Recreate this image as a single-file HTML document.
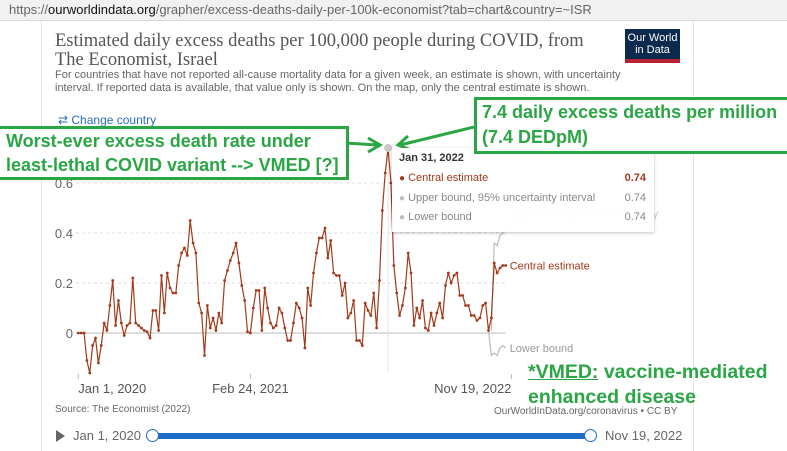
<!DOCTYPE html>
<html><head><meta charset="utf-8"><style>
body{margin:0;width:787px;height:445px;overflow:hidden;background:#fff;font-family:"Liberation Sans",sans-serif;position:relative}
.abs{position:absolute;white-space:nowrap}
.g{color:#2aa645;font-weight:bold;font-family:"Liberation Sans",sans-serif}
</style></head><body>
<div class="abs" style="left:0;top:0;width:787px;height:20px;background:#f1f1f1;border-bottom:1px solid #d8d8d8"></div>
<div class="abs" style="left:9px;top:2px;font-size:13px;color:#666">https://<span style="color:#111">ourworldindata.org</span>/grapher/excess-deaths-daily-per-100k-economist?tab=chart&amp;country=~ISR</div>
<div class="abs" style="left:41px;top:21px;width:651px;height:430px;border-left:1px solid #e4e4e4;border-right:1px solid #e4e4e4"></div>
<div class="abs" style="left:55px;top:32px;font-family:'Liberation Serif',serif;font-size:18.5px;line-height:19px;color:#555">Estimated daily excess deaths per 100,000 people during COVID, from<br>The Economist, Israel</div>
<div class="abs" style="left:625px;top:29px;width:55px;height:34px;background:#0c2a4d;border-bottom:4px solid #ba2335;color:#fff;font-size:11px;line-height:12px;text-align:center;padding-top:3px;box-sizing:border-box">Our World<br>in Data</div>
<div class="abs" style="left:55px;top:69px;font-size:11px;line-height:13px;color:#666">For countries that have not reported all-cause mortality data for a given week, an estimate is shown, with uncertainty<br>interval. If reported data is available, that value only is shown. On the map, only the central estimate is shown.</div>
<div class="abs" style="left:58px;top:113px;font-size:12px;color:#2a6ebb">⇄ Change country</div>

<svg id="chart" class="abs" style="left:0;top:0" width="787" height="445"></svg>

<div class="abs" style="left:392px;top:148px;width:262px;height:84px;background:rgba(255,255,255,0.93);box-shadow:0 1px 3px rgba(0,0,0,0.25);font-size:11px;color:#555">
<div style="position:absolute;left:7px;top:4px;font-weight:bold;color:#333">Jan 31, 2022</div>
<div style="position:absolute;left:7px;top:24px;color:#a2391a"><span style="font-size:10px">●</span> Central estimate</div><div style="position:absolute;right:8px;top:24px;color:#a2391a;font-weight:bold">0.74</div>
<div style="position:absolute;left:7px;top:44px;color:#888"><span style="font-size:10px;color:#bbb">●</span> Upper bound, 95% uncertainty interval</div><div style="position:absolute;right:8px;top:44px;color:#888">0.74</div>
<div style="position:absolute;left:7px;top:63px;color:#888"><span style="font-size:10px;color:#bbb">●</span> Lower bound</div><div style="position:absolute;right:8px;top:63px;color:#888">0.74</div>
</div>

<div class="abs g" style="left:0;top:126px;width:340px;height:48px;border:3px solid #2aa645;border-left:none;font-size:18px;line-height:24px;padding-left:6px;background:#fff">Worst-ever excess death rate under<br>least-lethal COVID variant --&gt; VMED [?]</div>
<div class="abs g" style="left:474px;top:97px;width:305px;height:51px;border:3px solid #2aa645;font-size:18px;line-height:25px;padding-left:5px;background:#fff">7.4 daily excess deaths per million<br>(7.4 DEDpM)</div>
<div class="abs g" style="left:528px;top:360px;font-size:19.5px;line-height:25px"><u>*VMED:</u> vaccine-mediated<br>enhanced disease</div>

<div class="abs" style="left:55px;top:404px;font-size:10px;color:#666">Source: The Economist (2022)</div>
<div class="abs" style="left:494px;top:406px;font-size:10px;color:#666">OurWorldInData.org/coronavirus • CC BY</div>
<div class="abs" style="left:56px;top:430px;width:0;height:0;border-left:9px solid #666;border-top:6px solid transparent;border-bottom:6px solid transparent"></div>
<div class="abs" style="left:73px;top:428px;font-size:13px;color:#666">Jan 1, 2020</div>
<div class="abs" style="left:153px;top:433px;width:438px;height:6px;background:#1c6cc8"></div>
<div class="abs" style="left:146px;top:429px;width:11px;height:11px;border:1.5px solid #1c6cc8;border-radius:50%;background:#fff"></div>
<div class="abs" style="left:584px;top:429px;width:11px;height:11px;border:1.5px solid #1c6cc8;border-radius:50%;background:#fff"></div>
<div class="abs" style="left:605px;top:428px;font-size:13px;color:#666">Nov 19, 2022</div>

<script>
const central=[0,0,0,-0.11,-0.16,-0.05,-0.02,-0.12,-0.05,0.04,0.01,0.11,0.21,0.03,0.13,0.04,-0.01,0.03,0.04,0.22,0.04,0.03,0.02,0.01,0.005,-0.02,0.09,0.09,0.01,0.23,0.08,0.24,0.18,0.16,0.16,0.27,0.32,0.34,0.31,0.45,0.36,0.32,0.12,0.08,-0.09,0.11,0.02,0.06,0.01,0.08,0.04,0.21,0.25,0.29,0.32,0.36,0.28,0.19,0.13,0.005,0,0.1,0.17,0.17,0.01,0.18,0.1,0.04,0.02,0.03,0.1,0.08,0.02,-0.03,-0.03,0.04,0.12,0.1,0.06,-0.06,0.18,0.11,0.24,0.32,0.38,0.38,0.42,0.3,0.37,0.24,0.23,0.23,0.15,0.2,0.06,0.08,0.13,-0.03,-0.03,-0.05,0.12,0.09,0.07,0.16,0.02,0.21,0.49,0.64,0.74,0.6,0.27,0.16,0.07,0.11,0.18,0.32,0.24,0.03,0.1,0.06,0.13,0.02,0.01,0.08,0.03,0.08,0.12,0.06,0.19,0.24,0.2,0.23,0.24,0.15,0.15,0.11,0.11,0.07,0.07,0.05,0.06,0.11,0.12,0.01,0.06,0.28,0.24,0.26,0.27,0.27];
const upperTail=[0.01,0.36,0.35,0.39,0.4,0.43];
const lowerTail=[0.01,-0.09,-0.08,-0.09,-0.06,-0.05,-0.06];
const yTicks=[0,0.2,0.4,0.6];
const yTickLabels=["0","0.2","0.4","0.6"];
const xTickIdx=[0,60,151];
const xTickLabels=["Jan 1, 2020","Feb 24, 2021","Nov 19, 2022"];
const highlightIdx=108;

const svg=document.getElementById('chart');const NS='http://www.w3.org/2000/svg';
const X0=78.3,X1=505.7,N=central.length;
const x=i=>X0+(X1-X0)*i/(N-1);
const y=v=>333-250*v;
function mk(t,a){const e=document.createElementNS(NS,t);for(const k in a)e.setAttribute(k,a[k]);svg.appendChild(e);return e;}
yTicks.forEach((t,i)=>{
 const l=mk('line',{x1:76,x2:X1,y1:y(t),y2:y(t),stroke:t===0?'#bbb':'#ddd','stroke-dasharray':t===0?'':'3,3'});
 
 
 const tx=mk('text',{x:73,y:y(t)+5,'text-anchor':'end','font-size':13,fill:'#666','font-family':'Liberation Sans, sans-serif'});
 tx.textContent=yTickLabels[i];
 
 
});
xTickIdx.forEach((ix,i)=>{
 const l=mk('line',{x1:x(ix),x2:x(ix),y1:374,y2:379,stroke:'#bbb'});
 
 
 const tx=mk('text',{x:x(ix),y:393,'text-anchor':i===0?'start':i===2?'end':'middle','font-size':13,fill:'#555','font-family':'Liberation Sans, sans-serif'});
 tx.textContent=xTickLabels[i];
 
 
});
const hv=mk('line',{x1:x(highlightIdx),x2:x(highlightIdx),y1:150,y2:372,stroke:'#e2e2e2'});


const s0=N-upperTail.length;
const up=mk('polyline',{points:upperTail.map((v,i)=>x(s0+i)+','+y(v)).join(' ')+' '+(X1)+','+y(0.42),fill:'none',stroke:'#bbb','stroke-width':1.2});


const s1=N-lowerTail.length;
const lo=mk('polyline',{points:lowerTail.map((v,i)=>x(s1+i)+','+y(v)).join(' '),fill:'none',stroke:'#bbb','stroke-width':1.2});


const cl=mk('polyline',{points:central.map((v,i)=>x(i)+','+y(v)).join(' '),fill:'none',stroke:'#a2391a','stroke-width':1.2});


central.forEach((v,i)=>{const c=mk('circle',{cx:x(i),cy:y(v),r:1.4,fill:'#a2391a'});
 
 });
const hp=mk('circle',{cx:x(highlightIdx),cy:y(central[highlightIdx]),r:4,fill:'#c8c8c8'});


[['Central estimate',y(central[N-1])+4,'#a2391a','central-label'],['Lower bound',y(lowerTail[lowerTail.length-1])+4,'#999','lower-label'],['Upper bound, 95% uncertainty',y(upperTail[upperTail.length-1])-8,'#ccc','upper-label']].forEach(a=>{
 const t=mk('text',{x:X1+4,y:a[1],'font-size':11,fill:a[2],'font-family':'Liberation Sans, sans-serif'});t.textContent=a[0];
 
 
});
const ar1=mk('path',{d:'M345,143 L378,145 M368,138 L380,145 L368,152',stroke:'#2aa645','stroke-width':3,fill:'none'});


const ar2=mk('path',{d:'M474,127 L400,145 M408,136 L398,145 L411,150',stroke:'#2aa645','stroke-width':3,fill:'none'});


</script>
</body></html>
